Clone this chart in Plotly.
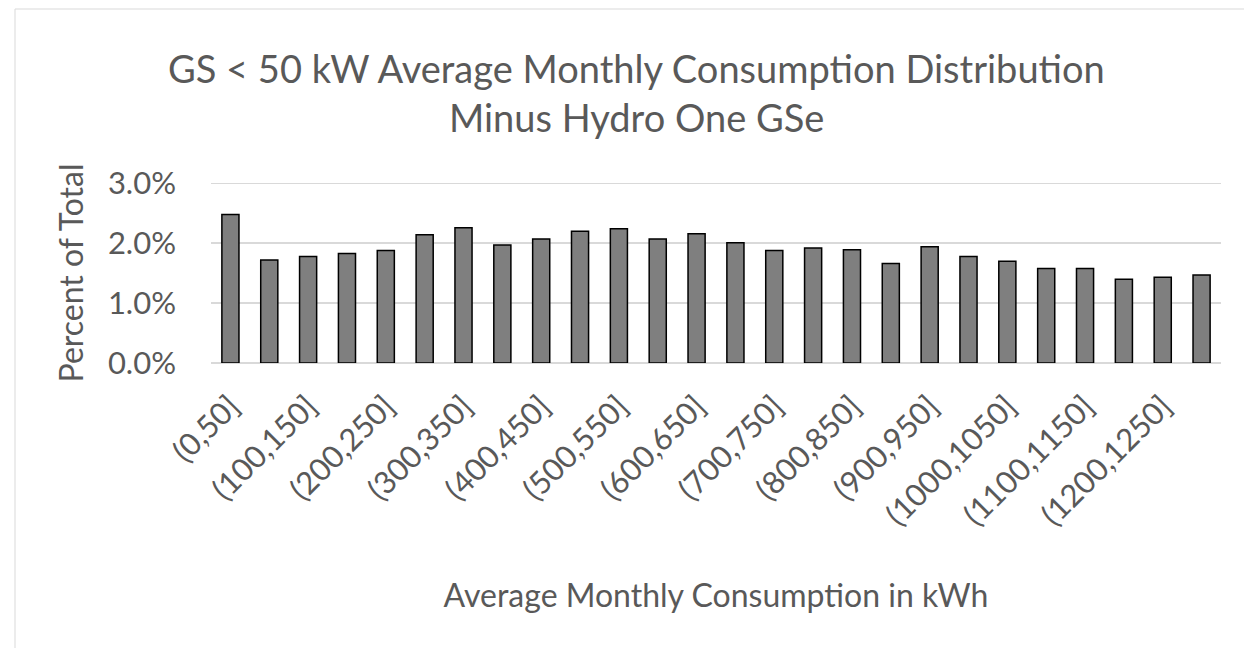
import plotly.graph_objects as go

categories = ["(0,50]", "(50,100]", "(100,150]", "(150,200]", "(200,250]", "(250,300]",
              "(300,350]", "(350,400]", "(400,450]", "(450,500]", "(500,550]", "(550,600]",
              "(600,650]", "(650,700]", "(700,750]", "(750,800]", "(800,850]", "(850,900]",
              "(900,950]", "(950,1000]", "(1000,1050]", "(1050,1100]", "(1100,1150]",
              "(1150,1200]", "(1200,1250]", "(1250,1300]"]
percent = [2.48, 1.72, 1.78, 1.83, 1.88, 2.14, 2.26, 1.97, 2.07, 2.20, 2.24, 2.07, 2.16,
           2.01, 1.88, 1.92, 1.89, 1.66, 1.94, 1.78, 1.70, 1.58, 1.58, 1.40, 1.43, 1.47]
values = [p / 100 for p in percent]
tick_labels = categories[::2]
y_ticks = [0, 0.01, 0.02, 0.03]
title_lines = ["GS < 50 kW Average Monthly Consumption Distribution", "Minus Hydro One GSe"]

FONT = "Lato, 'Open Sans', sans-serif"
GREY = "#595959"
GRID = "#d9d9d9"

fig = go.Figure()
fig.add_trace(go.Bar(
    x=categories, y=values,
    marker=dict(color="#7f7f7f", line=dict(color="#000000", width=1.5)),
))

W, H = 1252, 648
L, R, T, B = 203, 39, 175, 293
pw, ph = W - L - R, H - T - B


def py(pixel_y):
    # pixel row -> paper y
    return (H - B - pixel_y) / ph


fig.update_layout(
    width=W, height=H,
    margin=dict(l=L, r=R, t=T, b=B),
    paper_bgcolor="white", plot_bgcolor="white",
    bargap=0.56,
    showlegend=False,
    font=dict(family=FONT, color=GREY),
    xaxis=dict(
        type="category",
        tickmode="array", tickvals=tick_labels, ticktext=tick_labels,
        tickangle=-45, tickfont=dict(size=31, color=GREY),
        ticklabelstandoff=18,
        showgrid=False, showline=False, ticks="",
        title=dict(text="Average Monthly Consumption in kWh",
                   font=dict(size=32, color=GREY), standoff=52),
    ),
    yaxis=dict(
        range=[0, 0.03006], tickvals=y_ticks, tickformat=".1%",
        tickfont=dict(size=31, color=GREY),
        ticklabelstandoff=34,
        showgrid=True, gridcolor=GRID, gridwidth=1.5,
        zeroline=True, zerolinecolor=GRID, zerolinewidth=1.5,
        showline=False, ticks="",
        title=dict(text="Percent of Total", font=dict(size=32, color=GREY), standoff=14),
    ),
    annotations=[
        dict(text=title_lines[0], xref="paper", yref="paper", x=(628 - L) / pw, y=py(60),
             xanchor="center", yanchor="middle", showarrow=False,
             font=dict(size=38, color=GREY, family=FONT)),
        dict(text=title_lines[1], xref="paper", yref="paper", x=(628 - L) / pw, y=py(109),
             xanchor="center", yanchor="middle", showarrow=False,
             font=dict(size=38, color=GREY, family=FONT)),
    ],
    shapes=[
        dict(type="line", xref="paper", yref="y", x0=0, x1=1, y0=y_ticks[-1], y1=y_ticks[-1],
             line=dict(color=GRID, width=1.5), layer="below"),
        dict(type="rect", xref="paper", yref="paper",
             x0=(7 - L) / pw, x1=(W - 5 - L) / pw,
             y0=-(B - 1) / ph, y1=1 + (T - 1) / ph,
             line=dict(color=GRID, width=1), fillcolor="rgba(0,0,0,0)"),
    ],
)

fig.write_html("out.html")
